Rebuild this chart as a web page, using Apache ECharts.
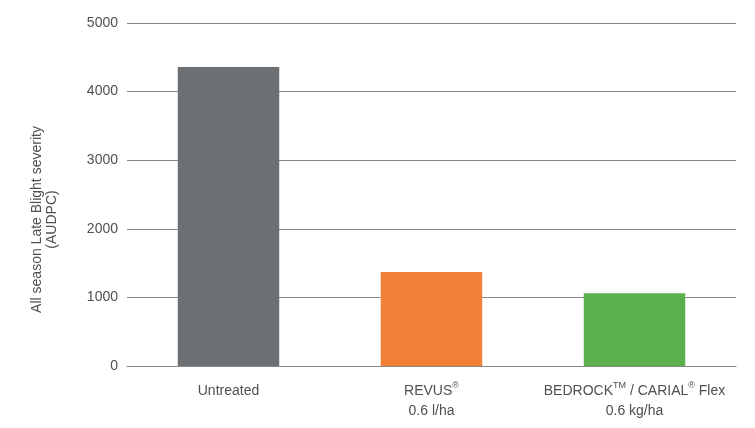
<!DOCTYPE html>
<html><head><meta charset="utf-8">
<script src="https://cdn.jsdelivr.net/npm/echarts@6/dist/echarts.min.js"></script>
<style>html,body{margin:0;padding:0;background:#fff}#c{width:755px;height:428px}</style>
</head><body><div id="c"></div>
<script>
var categories = ['Untreated', 'REVUS®\n0.6 l/ha', 'BEDROCK™ / CARIAL® Flex\n0.6 kg/ha'];
var values = [4360, 1370, 1060];
var barColors = ['#6d7073', '#f28038', '#5cb04c'];
var yTicks = [0, 1000, 2000, 3000, 4000, 5000];
var yName = 'All season Late Blight severity\n(AUDPC)';

var font = '"Liberation Sans", Arial, sans-serif';
var chart = echarts.init(document.getElementById('c'));
chart.setOption({
  animation: false,
  grid: { left: 127, right: 19, top: 23, bottom: 62 },
  xAxis: {
    type: 'category',
    data: categories,
    axisLine: { lineStyle: { color: '#8a8a8a', width: 1.2 } },
    axisTick: { show: false },
    axisLabel: {
      interval: 0,
      margin: 15, color: '#4f4f4f', fontSize: 14, fontFamily: font, lineHeight: 20,
      formatter: function (v) {
        return v.replace(/®/g, '{s|®}').replace(/™/g, '{s|TM}');
      },
      rich: {
        s: { fontSize: 9, fontFamily: font, color: '#4f4f4f', verticalAlign: 'top', lineHeight: 20, padding: [0, 0, 6, 0] }
      }
    }
  },
  yAxis: {
    type: 'value',
    min: yTicks[0], max: yTicks[yTicks.length - 1], interval: 1000,
    name: yName, nameLocation: 'middle', nameRotate: 90, nameGap: 67,
    nameTextStyle: { color: '#4f4f4f', fontSize: 14, fontFamily: font, lineHeight: 15, padding: [0, 50, 0, 0] },
    axisLine: { show: false },
    axisTick: { show: false },
    axisLabel: { margin: 9, color: '#4f4f4f', fontSize: 14, fontFamily: font, formatter: function (v) { return String(v); } },
    splitLine: { lineStyle: { color: '#8a8a8a', width: 1.2 } }
  },
  series: [{
    type: 'bar',
    data: values.map(function (v, i) { return { value: v, itemStyle: { color: barColors[i] } }; }),
    barWidth: '50%'
  }]
});
</script></body></html>
